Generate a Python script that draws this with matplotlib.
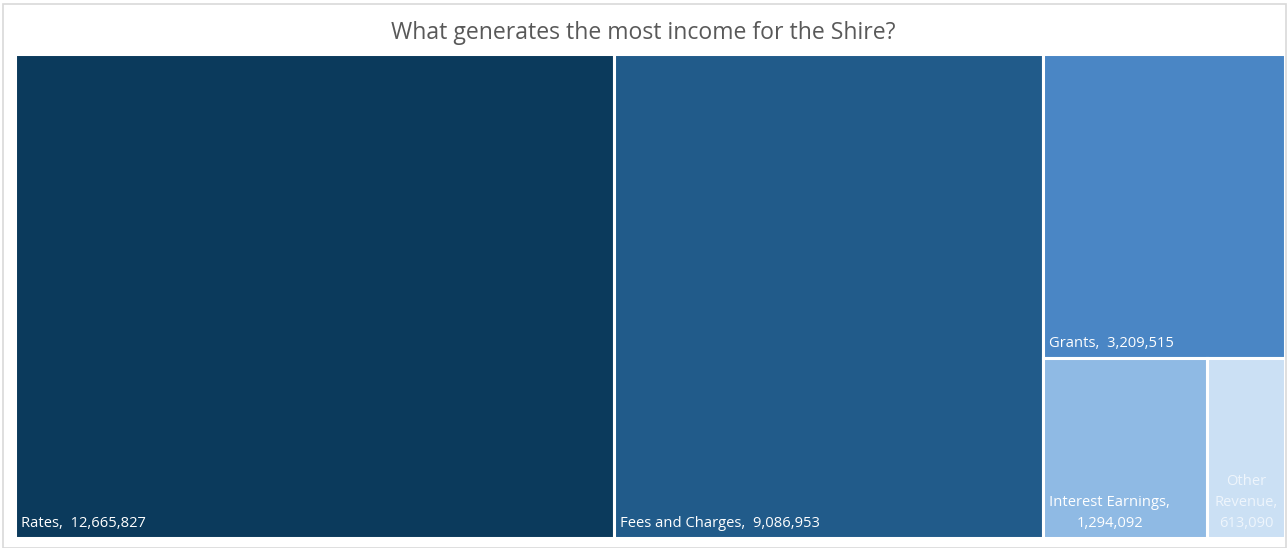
import matplotlib
matplotlib.use("Agg")
import matplotlib.pyplot as plt
from matplotlib.patches import Rectangle

# Income sources and amounts
categories = ["Rates", "Fees and Charges", "Grants", "Interest Earnings", "Other Revenue"]
values = [12665827, 9086953, 3209515, 1294092, 613090]
colors = ["#0B3A5C", "#215B8A", "#4A86C5", "#8FBAE4", "#CBE0F4"]
title = "What generates the most income for the Shire?"

W, H = 1287, 548
fig = plt.figure(figsize=(W / 100, H / 100), dpi=100)
fig.patch.set_facecolor("white")

# outer chart border
fig.add_artist(Rectangle((3 / W, 0.5 / H), (W - 4.5) / W, (H - 4) / H,
                         transform=fig.transFigure, fill=False,
                         edgecolor="#D9D9D9", linewidth=1.2))

ax = fig.add_axes([15 / W, 10 / H, (1285 - 15) / W, (539 - 55) / H])
ax.set_xlim(0, 1)
ax.set_ylim(0, 1)
ax.axis("off")

total = sum(values)
rates, fees, grants, interest, other = values

# Treemap layout: two full-height strips, then a column split into a top
# block and a bottom row of two cells.
w_rates = rates / total
w_fees = fees / total
w_rest = 1 - w_rates - w_fees
rest_total = grants + interest + other
h_grants = grants / rest_total
bottom_total = interest + other
w_int = w_rest * interest / bottom_total

rects = [
    (0.0, 0.0, w_rates, 1.0),
    (w_rates, 0.0, w_fees, 1.0),
    (w_rates + w_fees, 1 - h_grants, w_rest, h_grants),
    (w_rates + w_fees, 0.0, w_int, 1 - h_grants),
    (w_rates + w_fees + w_int, 0.0, w_rest - w_int, 1 - h_grants),
]

for (x, y, w, h), c in zip(rects, colors):
    ax.add_patch(Rectangle((x, y), w, h, facecolor=c, edgecolor="white",
                           linewidth=2.2))

font = "Open Sans"
fs = 10.6
pad_x = 6 / 1270
pad_y = 7 / 484

def fmt(v):
    return f"{v:,}"

# single-line labels, bottom-left
for i in range(3):
    x, y, w, h = rects[i]
    ax.text(x + pad_x, y + pad_y, f"{categories[i]},  {fmt(values[i])}",
            ha="left", va="bottom", color="white", fontsize=fs,
            family=font)

# wrapped labels for the small cells
x, y, w, h = rects[3]
ax.text(x + pad_x, y + pad_y, f"Interest Earnings,\n{fmt(interest)}",
        ha="left", va="bottom", color="white", fontsize=fs,
        family=font, linespacing=1.55, multialignment="center")
x, y, w, h = rects[4]
ax.text(x + w / 2, y + pad_y, f"Other\nRevenue,\n{fmt(other)}",
        ha="center", va="bottom", color="#EEF5FC", fontsize=fs,
        family=font, linespacing=1.55, multialignment="center")

fig.text(0.5, 1 - 33 / H, title, ha="center", va="center",
         color="#595959", fontsize=16.6, family=font)

fig.savefig("out.png", dpi=100, facecolor="white")
